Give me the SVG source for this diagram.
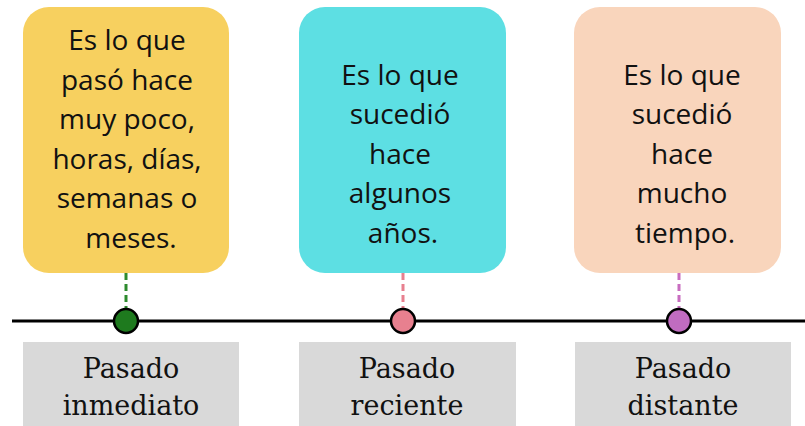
<svg xmlns="http://www.w3.org/2000/svg" width="805" height="426" viewBox="0 0 805 426">
<style>
.t{font-family:"Open Sans","Noto Sans",sans-serif;font-size:28px;fill:#111;text-anchor:middle}
.l{font-family:"DejaVu Serif","Liberation Serif",serif;font-size:27px;fill:#111;text-anchor:middle}
.lab{fill:#d9d9d9}
.dot{stroke:#000;stroke-width:2.5}
.dash{stroke-width:3;stroke-dasharray:7,4;fill:none}
</style>
<rect width="805" height="426" fill="#fff"/>
<g id="connectors">
<line x1="12" y1="321" x2="805" y2="321" stroke="#000" stroke-width="3"/>
<line class="dash" x1="126" y1="273" x2="126" y2="308" stroke="#2e8b2e"/>
<line class="dash" x1="403" y1="273" x2="403" y2="308" stroke="#e8808f"/>
<line class="dash" x1="679" y1="273" x2="679" y2="308" stroke="#c86dc0"/>
</g>
<g id="box1">
<rect x="23" y="7" width="206" height="266" rx="26" fill="#f7d05f"/>
<text class="t" x="127" y="50">Es lo que</text>
<text class="t" x="127" y="90">pasó hace</text>
<text class="t" x="127" y="129">muy poco,</text>
<text class="t" x="127" y="169">horas, días,</text>
<text class="t" x="127" y="208">semanas o</text>
<text class="t" x="131" y="248">meses.</text>
</g>
<g id="box2">
<rect x="299" y="7" width="207" height="266" rx="26" fill="#5ddfe3"/>
<text class="t" x="400" y="85">Es lo que</text>
<text class="t" x="400" y="124">sucedió</text>
<text class="t" x="400" y="164">hace</text>
<text class="t" x="400" y="203">algunos</text>
<text class="t" x="403" y="243">años.</text>
</g>
<g id="box3">
<rect x="574" y="7" width="207" height="266" rx="26" fill="#f9d5bc"/>
<text class="t" x="682" y="85">Es lo que</text>
<text class="t" x="682" y="124">sucedió</text>
<text class="t" x="682" y="164">hace</text>
<text class="t" x="682" y="203">mucho</text>
<text class="t" x="685" y="243">tiempo.</text>
</g>
<g id="dot1"><circle class="dot" cx="126" cy="321" r="12" fill="#1e7a1e"/></g>
<g id="dot2"><circle class="dot" cx="403" cy="321" r="12" fill="#e8808f"/></g>
<g id="dot3"><circle class="dot" cx="679" cy="321" r="12" fill="#c06cc0"/></g>
<g id="label1">
<rect class="lab" x="23" y="342" width="216" height="84"/>
<text class="l" x="131" y="378">Pasado</text>
<text class="l" x="131" y="415">inmediato</text>
</g>
<g id="label2">
<rect class="lab" x="299" y="342" width="217" height="84"/>
<text class="l" x="407" y="378">Pasado</text>
<text class="l" x="407" y="415">reciente</text>
</g>
<g id="label3">
<rect class="lab" x="575" y="342" width="216" height="84"/>
<text class="l" x="683" y="378">Pasado</text>
<text class="l" x="683" y="415">distante</text>
</g>
</svg>
